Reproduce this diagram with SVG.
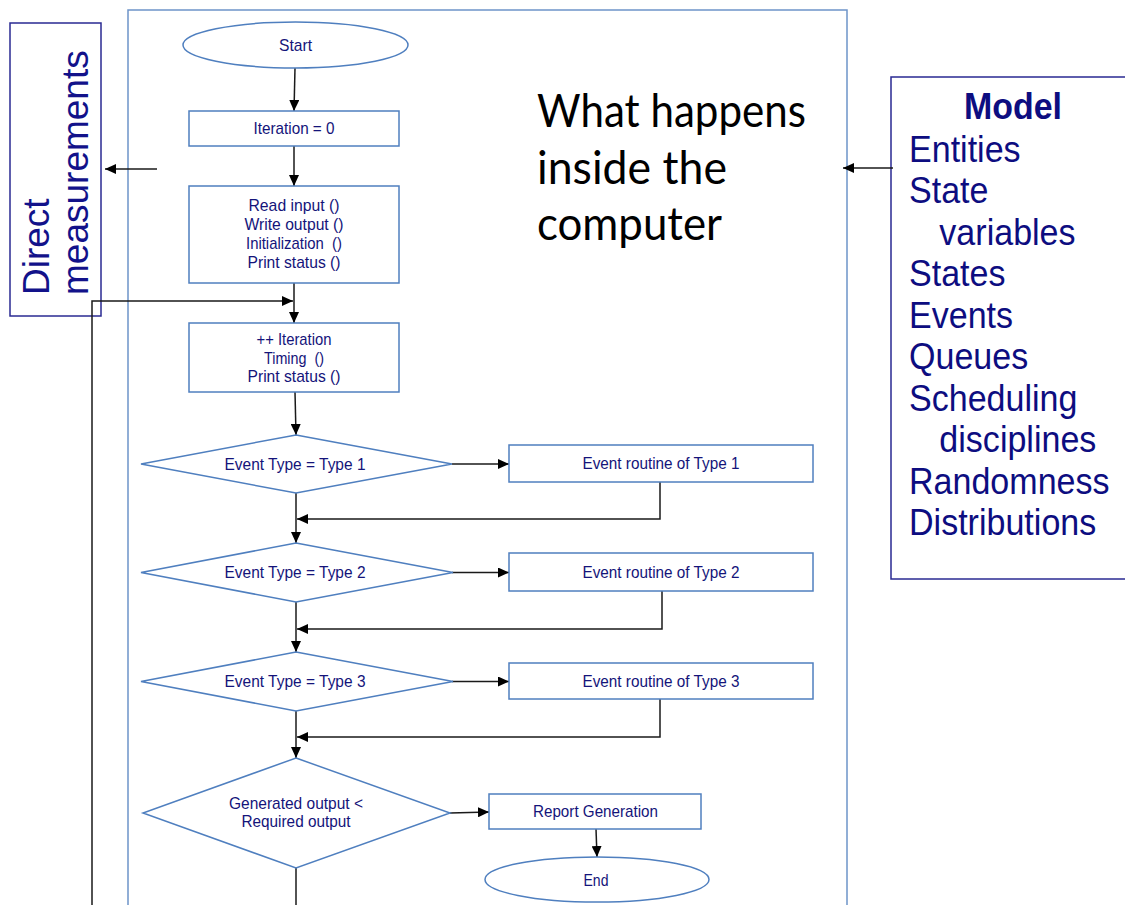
<svg xmlns="http://www.w3.org/2000/svg" width="1125" height="905" viewBox="0 0 1125 905">
  <defs>
    <marker id="arrow" viewBox="0 0 11 10" markerWidth="11" markerHeight="10" refX="11" refY="5" orient="auto" markerUnits="userSpaceOnUse">
      <path d="M0,0 L11,5 L0,10 z" fill="#000"/>
    </marker>
  </defs>
  <style>
    .shape { fill: #fff; stroke: #4f7fbf; stroke-width: 1.5; }
    .frame { fill: none; stroke: #6d94c9; stroke-width: 1.5; }
    .navybox { fill: #fff; stroke: #2a2a92; stroke-width: 1.5; }
    .lbl { font-family: "Liberation Sans", Arial, sans-serif; font-size: 17px; fill: #14147a; text-anchor: middle; white-space: pre; }
    .big { font-family: "Liberation Sans", Arial, sans-serif; font-size: 37px; fill: #12128a; }
    .model { font-family: "Liberation Sans", Arial, sans-serif; font-size: 37px; fill: #0d0d80; }
    .title { font-family: Lato, "Open Sans", sans-serif; font-size: 46px; fill: #000; }
    .conn { fill: none; stroke: #1a1a1a; stroke-width: 1.5; }
  </style>

  <!-- outer frame of the computer process -->
  <rect class="frame" x="128" y="10" width="719" height="1000"/>

  <!-- left panel -->
  <g id="direct-measurements">
    <rect class="navybox" x="10" y="23" width="91" height="293"/>
    <text class="big" transform="translate(49,295) rotate(-90)">Direct</text>
    <text class="big" transform="translate(88,295) rotate(-90)">measurements</text>
  </g>

  <!-- right panel -->
  <g id="model">
    <rect class="navybox" x="891" y="77" width="260" height="502"/>
    <text class="model" x="1013" y="119" font-weight="bold" text-anchor="middle" textLength="98" lengthAdjust="spacingAndGlyphs">Model</text>
    <g transform="translate(909,0) scale(0.92,1)">
      <text class="model" x="0" y="162">Entities</text>
      <text class="model" x="0" y="203.5">State</text>
      <text class="model" x="33" y="245">variables</text>
      <text class="model" x="0" y="286.5">States</text>
      <text class="model" x="0" y="328">Events</text>
      <text class="model" x="0" y="369.5">Queues</text>
      <text class="model" x="0" y="411">Scheduling</text>
      <text class="model" x="33" y="452.5">disciplines</text>
      <text class="model" x="0" y="494">Randomness</text>
      <text class="model" x="0" y="535.5">Distributions</text>
    </g>
  </g>

  <g id="caption">
    <text class="title" x="537" y="127" textLength="269" lengthAdjust="spacingAndGlyphs">What happens</text>
    <text class="title" x="537" y="184" textLength="190" lengthAdjust="spacingAndGlyphs">inside the</text>
    <text class="title" x="537" y="240" textLength="185" lengthAdjust="spacingAndGlyphs">computer</text>
  </g>

  <!-- connectors -->
  <g id="connectors">
    <line class="conn" x1="157" y1="169" x2="105" y2="169" marker-end="url(#arrow)"/>
    <line class="conn" x1="893" y1="168" x2="843" y2="168" marker-end="url(#arrow)"/>
    <line class="conn" x1="295" y1="68" x2="294" y2="111" marker-end="url(#arrow)"/>
    <line class="conn" x1="294" y1="146" x2="294" y2="186" marker-end="url(#arrow)"/>
    <line class="conn" x1="294" y1="283" x2="294" y2="323" marker-end="url(#arrow)"/>
    <polyline class="conn" points="92,905 92,301 293,301" marker-end="url(#arrow)"/>
    <line class="conn" x1="295" y1="392" x2="296" y2="435" marker-end="url(#arrow)"/>
    <!-- type 1 -->
    <line class="conn" x1="452" y1="464" x2="509" y2="464" marker-end="url(#arrow)"/>
    <polyline class="conn" points="660,482 660,519 297,519" marker-end="url(#arrow)"/>
    <line class="conn" x1="296" y1="493" x2="296" y2="543" marker-end="url(#arrow)"/>
    <!-- type 2 -->
    <line class="conn" x1="452" y1="572.5" x2="509" y2="572.5" marker-end="url(#arrow)"/>
    <polyline class="conn" points="662,591 662,629 297,629" marker-end="url(#arrow)"/>
    <line class="conn" x1="296" y1="602" x2="296" y2="652" marker-end="url(#arrow)"/>
    <!-- type 3 -->
    <line class="conn" x1="452" y1="681.5" x2="509" y2="681.5" marker-end="url(#arrow)"/>
    <polyline class="conn" points="660,699 660,737 297,737" marker-end="url(#arrow)"/>
    <line class="conn" x1="296" y1="711" x2="296" y2="758" marker-end="url(#arrow)"/>
    <!-- termination test -->
    <line class="conn" x1="450" y1="813" x2="489" y2="812" marker-end="url(#arrow)"/>
    <line class="conn" x1="596" y1="829" x2="597" y2="857" marker-end="url(#arrow)"/>
    <line class="conn" x1="296" y1="868" x2="296" y2="905"/>
  </g>

  <!-- flowchart nodes -->
  <g id="start">
    <ellipse class="shape" cx="295.5" cy="45" rx="112.5" ry="23"/>
    <text class="lbl" x="295.5" y="51" textLength="33" lengthAdjust="spacingAndGlyphs">Start</text>
  </g>
  <g id="iteration-init">
    <rect class="shape" x="189" y="111" width="210" height="35"/>
    <text class="lbl" x="294" y="134" textLength="81" lengthAdjust="spacingAndGlyphs">Iteration = 0</text>
  </g>
  <g id="setup">
    <rect class="shape" x="189" y="186" width="210" height="97"/>
    <text class="lbl" x="294" y="211" textLength="91" lengthAdjust="spacingAndGlyphs">Read input ()</text>
    <text class="lbl" x="294" y="230" textLength="99" lengthAdjust="spacingAndGlyphs">Write output ()</text>
    <text class="lbl" x="294" y="249" textLength="96" lengthAdjust="spacingAndGlyphs" xml:space="preserve">Initialization  ()</text>
    <text class="lbl" x="294" y="267.5" textLength="93" lengthAdjust="spacingAndGlyphs">Print status ()</text>
  </g>
  <g id="iteration-step">
    <rect class="shape" x="189" y="323" width="210" height="69"/>
    <text class="lbl" x="294" y="345" textLength="75" lengthAdjust="spacingAndGlyphs">++ Iteration</text>
    <text class="lbl" x="294" y="363.5" textLength="60" lengthAdjust="spacingAndGlyphs" xml:space="preserve">Timing  ()</text>
    <text class="lbl" x="294" y="382" textLength="93" lengthAdjust="spacingAndGlyphs">Print status ()</text>
  </g>

  <g id="decision-type1">
    <polygon class="shape" points="296,435 452,464 296,493 141,464"/>
    <text class="lbl" x="295" y="469.5" textLength="141" lengthAdjust="spacingAndGlyphs">Event Type = Type 1</text>
  </g>
  <g id="routine-type1">
    <rect class="shape" x="509" y="445" width="304" height="37"/>
    <text class="lbl" x="661" y="469" textLength="157" lengthAdjust="spacingAndGlyphs">Event routine of Type 1</text>
  </g>

  <g id="decision-type2">
    <polygon class="shape" points="296,543 453,572.5 296,602 141,572.5"/>
    <text class="lbl" x="295" y="578" textLength="141" lengthAdjust="spacingAndGlyphs">Event Type = Type 2</text>
  </g>
  <g id="routine-type2">
    <rect class="shape" x="509" y="553" width="304" height="38"/>
    <text class="lbl" x="661" y="578" textLength="157" lengthAdjust="spacingAndGlyphs">Event routine of Type 2</text>
  </g>

  <g id="decision-type3">
    <polygon class="shape" points="296,652 453,681.5 296,711 141,681.5"/>
    <text class="lbl" x="295" y="687" textLength="141" lengthAdjust="spacingAndGlyphs">Event Type = Type 3</text>
  </g>
  <g id="routine-type3">
    <rect class="shape" x="509" y="663" width="304" height="36"/>
    <text class="lbl" x="661" y="687" textLength="157" lengthAdjust="spacingAndGlyphs">Event routine of Type 3</text>
  </g>

  <g id="decision-output">
    <polygon class="shape" points="296,758 450,813 296,868 143,813"/>
    <text class="lbl" x="296" y="809" textLength="134" lengthAdjust="spacingAndGlyphs">Generated output &lt;</text>
    <text class="lbl" x="296" y="827" textLength="109" lengthAdjust="spacingAndGlyphs">Required output</text>
  </g>
  <g id="report">
    <rect class="shape" x="489" y="794" width="212" height="35"/>
    <text class="lbl" x="595.5" y="817" textLength="125" lengthAdjust="spacingAndGlyphs">Report Generation</text>
  </g>
  <g id="end">
    <ellipse class="shape" cx="597" cy="879.5" rx="112" ry="22.5"/>
    <text class="lbl" x="596" y="885.5" textLength="25" lengthAdjust="spacingAndGlyphs">End</text>
  </g>
</svg>
